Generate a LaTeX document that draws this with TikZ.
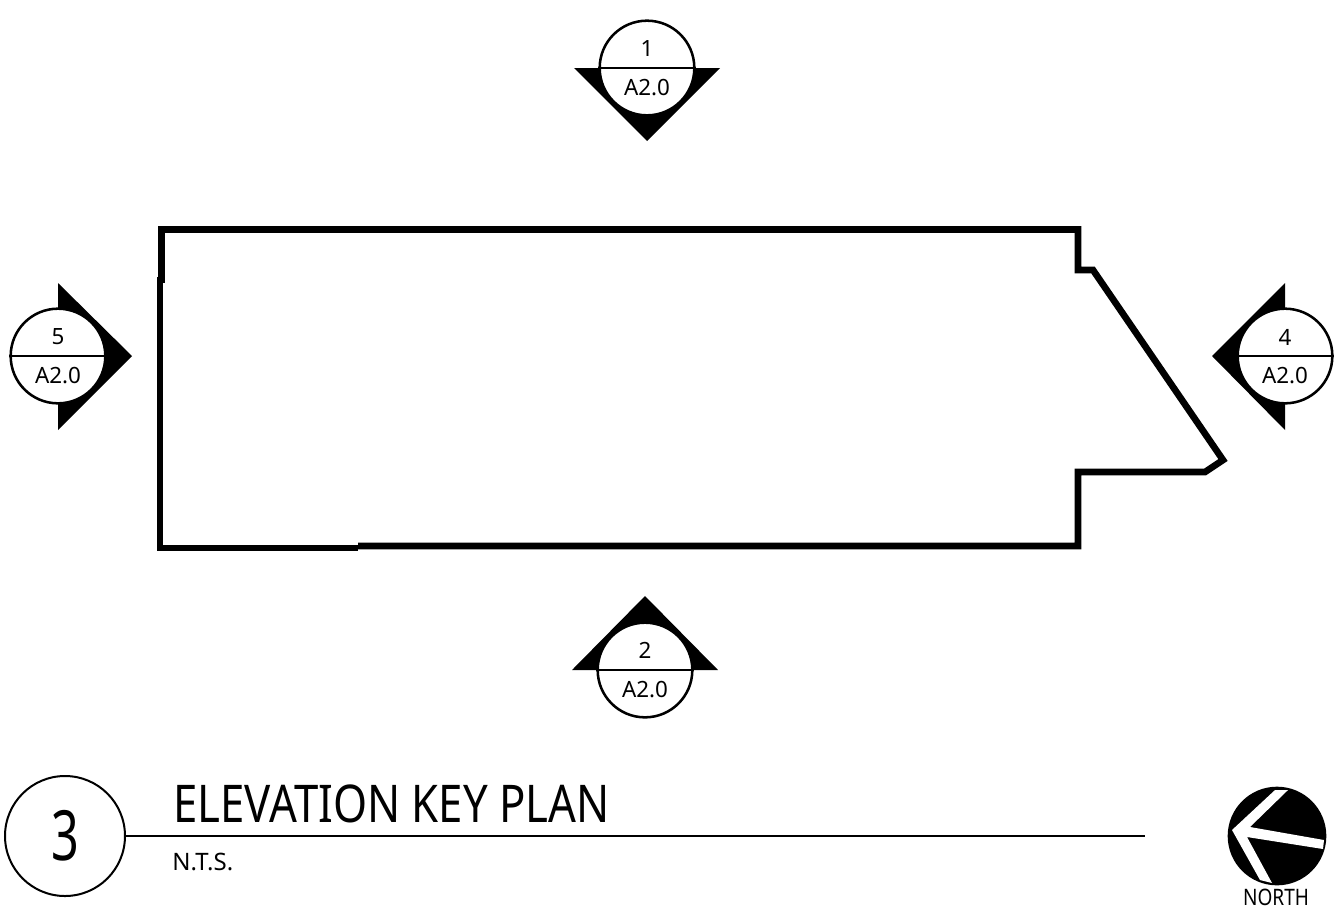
\documentclass[tikz,border=0pt]{standalone}
\usepackage{fontspec}
\setmainfont{Noto Sans}
\newfontfamily\condfont[FakeStretch=.84]{Noto Sans}
\newfontfamily\narrowfont[FakeStretch=.7]{Noto Sans}
\tikzset{
  seccircle/.style={circle, draw, line width=1.9pt, fill=white, minimum size=71pt, inner sep=0pt},
  seclabel/.style={font=\fontsize{16.8}{17}\selectfont, inner sep=0pt},
  secline/.style={line width=1.9pt},
  wall/.style={line width=5pt, line join=miter, line cap=butt},
}
\begin{document}
\begin{tikzpicture}[x=.75pt, y=-.75pt]
    \useasboundingbox (0,0) rectangle (1341,908);
    % section marks
    \fill (574,68)--(720,68)--(647,141)--cycle;
    \fill (572,670)--(718,670)--(645,596)--cycle;
    \fill (58,283)--(58,430)--(132,356)--cycle;
    \fill (1285,283)--(1285,430)--(1212,356)--cycle;
    \node[seccircle] (secA) at (647,68) {};
    \node[seccircle] (secB) at (645,670) {};
    \node[seccircle] (secC) at (58,356) {};
    \node[seccircle] (secD) at (1285,356) {};
    \draw[secline] (secA.west)--(secA.east);
    \draw[secline] (secB.west)--(secB.east);
    \draw[secline] (secC.west)--(secC.east);
    \draw[secline] (secD.west)--(secD.east);
    \node[seclabel] (numA) at (647,48) {1};
    \node[seclabel] (shtA) at (647,88) {A2.0};
    \node[seclabel] (numB) at (645,650) {2};
    \node[seclabel] (shtB) at (645,690) {A2.0};
    \node[seclabel] (numC) at (58,337) {5};
    \node[seclabel] (shtC) at (58,376) {A2.0};
    \node[seclabel] (numD) at (1285,337) {4};
    \node[seclabel] (shtD) at (1285,376) {A2.0};
    % building outline
    \draw[wall] (158,229.5)--(1078,229.5)--(1078,270)--(1093,270)--(1223,460)--(1205,472)--(1078,472)--(1078,546)--(358,546);
    \draw[wall] (358,548)--(160,548)--(160,277);
    \draw[wall] (161.3,283)--(161.3,227);
    % title block
    \node[circle, draw, line width=1.5pt, minimum size=90pt, inner sep=0pt, font=\narrowfont\fontsize{52}{52}\selectfont] (titleno) at (65,836) {3};
    \coordinate (ruleend) at (1145,836);
    \draw[line width=1.5pt] (titleno.east)--(ruleend);
    \node[anchor=base west, inner sep=0pt, font=\condfont\fontsize{39}{39}\selectfont] (title) at (173,822) {ELEVATION KEY PLAN};
    \node[anchor=base west, inner sep=0pt, font=\fontsize{18}{18}\selectfont] (nts) at (172,870) {N.T.S.};
    % north arrow
    \fill (1277,836) circle (37pt);
    \fill[white] (1232,830)--(1275,790)--(1288,790)--(1250,827)--(1324,840)--(1323,849)--(1247,837)--(1272,883)--(1260,880)--cycle;
    \node[anchor=base, inner sep=0pt, font=\condfont\fontsize{17}{18}\selectfont] (north) at (1276,905.5) {NORTH};
\end{tikzpicture}
\end{document}
